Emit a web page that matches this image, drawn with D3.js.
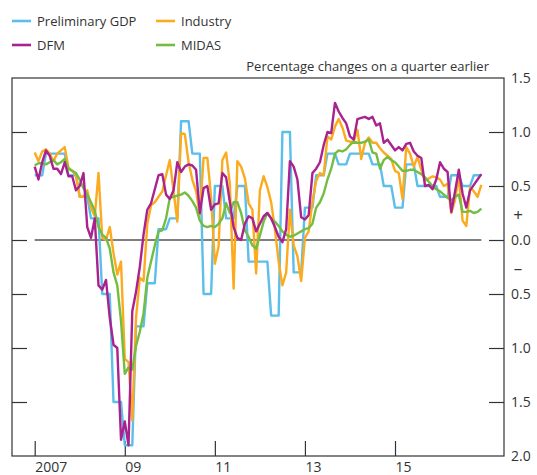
<!DOCTYPE html>
<html>
<head>
<meta charset="utf-8">
<script src="https://cdn.jsdelivr.net/npm/d3@7"></script>
<style>
  body { margin: 0; background: #fff; }
  text { font-family: "Open Sans", "Noto Sans", sans-serif; fill: #333; }
</style>
</head>
<body>
<div id="chart"></div>
<script>
// monthly estimates, Jan 2007 onwards
let startYear = 2007;

// preliminary GDP, one value per quarter (held for the 3 months of the quarter)
let prelimGDP = [0.6, 0.8, 0.8, 0.6, 0.4, 0.2, -0.5, -1.5, -1.9, -0.8, -0.4, 0.1,
  0.2, 1.1, 0.8, -0.5, 0.5, 0.2, 0.5, -0.2, -0.2, -0.7, 1.0, -0.3,
  0.3, 0.6, 0.8, 0.7, 0.8, 0.8, 0.7, 0.5, 0.3, 0.7, 0.5, 0.5,
  0.4, 0.6, 0.5, 0.6];

let industry = [0.81, 0.73, 0.82, 0.84, 0.80, 0.73, 0.80, 0.83, 0.86, 0.67,
  0.64, 0.60, 0.40, 0.40, 0.46, 0.30, 0.22, 0.62, 0.02, 0.00,
  0.12, -0.12, -0.32, -0.20, -1.10, -1.13, -1.67, -0.72, -0.35, -0.38,
  0.15, 0.32, 0.35, 0.40, 0.45, 0.60, 0.74, 0.45, 0.17, 0.99,
  0.98, 0.72, 0.56, 0.45, 0.23, 0.76, 0.76, 0.40, -0.22, -0.06,
  0.74, 0.81, 0.52, -0.45, 0.73, 0.68, 0.57, 0.34, 0.28, -0.31,
  0.46, 0.59, 0.49, 0.35, 0.10, -0.20, -0.42, -0.30, 0.28, -0.05,
  -0.15, -0.38, 0.02, 0.08, 0.35, 0.55, 0.62, 0.60, 0.96, 0.93,
  1.05, 1.12, 1.04, 0.92, 0.91, 0.91, 1.02, 0.75, 0.90, 0.95,
  0.90, 0.90, 0.85, 0.81, 0.78, 0.75, 0.64, 0.62, 0.38, 0.86,
  0.80, 0.68, 0.77, 0.65, 0.55, 0.57, 0.59, 0.58, 0.56, 0.50,
  0.52, 0.25, 0.37, 0.59, 0.18, 0.13, 0.49, 0.45, 0.40, 0.51];

let midas = [0.69, 0.71, 0.71, 0.70, 0.72, 0.74, 0.70, 0.72, 0.75, 0.66,
  0.64, 0.62, 0.56, 0.48, 0.42, 0.35, 0.27, 0.12, 0.05, 0.02,
  -0.08, -0.30, -0.42, -0.75, -1.24, -1.18, -1.20, -0.98, -0.85, -0.68,
  -0.35, -0.20, -0.05, 0.08, 0.09, 0.20, 0.39, 0.40, 0.41, 0.42,
  0.44, 0.41, 0.36, 0.30, 0.18, 0.13, 0.12, 0.13, 0.12, 0.15,
  0.20, 0.34, 0.25, 0.35, 0.35, 0.25, 0.09, 0.03, -0.05, -0.08,
  0.04, 0.17, 0.25, 0.20, 0.17, 0.13, 0.08, 0.05, 0.03, 0.04,
  0.06, 0.08, 0.10, 0.11, 0.15, 0.30, 0.35, 0.43, 0.56, 0.66,
  0.80, 0.83, 0.82, 0.84, 0.88, 0.91, 0.90, 0.90, 0.91, 0.93,
  0.81, 0.80, 0.66, 0.74, 0.77, 0.74, 0.72, 0.68, 0.64, 0.64,
  0.65, 0.65, 0.63, 0.61, 0.58, 0.54, 0.50, 0.47, 0.45, 0.42,
  0.39, 0.37, 0.40, 0.42, 0.26, 0.26, 0.27, 0.25, 0.26, 0.29];

let dfm = [0.68, 0.56, 0.72, 0.83, 0.78, 0.66, 0.66, 0.61, 0.72, 0.59,
  0.59, 0.46, 0.50, 0.62, 0.12, 0.02, 0.20, -0.42, -0.46, -0.37,
  -0.72, -0.97, -1.00, -1.85, -1.68, -1.90, -0.66, -0.48, -0.25, 0.05,
  0.28, 0.34, 0.47, 0.60, 0.61, 0.42, 0.38, 0.46, 0.72, 0.63,
  0.68, 0.70, 0.69, 0.65, 0.25, 0.48, 0.50, 0.28, 0.33, 0.34,
  0.62, 0.58, 0.35, 0.12, 0.02, 0.00, 0.15, 0.22, 0.20, 0.08,
  0.15, 0.22, 0.25, 0.20, 0.12, 0.03, -0.02, 0.10, 0.73, 0.68,
  0.56, 0.21, 0.19, 0.23, 0.62, 0.66, 0.72, 0.88, 1.00, 0.99,
  1.27, 1.19, 1.13, 1.08, 0.96, 0.93, 1.12, 1.13, 1.14, 1.12,
  1.14, 1.06, 1.08, 0.90, 0.93, 0.88, 0.83, 0.86, 0.83, 0.89,
  0.90, 0.82, 0.78, 0.76, 0.50, 0.51, 0.47, 0.56, 0.72, 0.66,
  0.63, 0.26, 0.45, 0.65, 0.43, 0.30, 0.46, 0.51, 0.56, 0.61];

let yTicks = [-2, -1.5, -1, -0.5, 0, 0.5, 1, 1.5];
let xTicks = [2007, 2009, 2011, 2013, 2015];
let xTickLabels = ["2007", "09", "11", "13", "15"];

let seriesNames = ["Preliminary GDP", "Industry", "DFM", "MIDAS"];
let colors = {"Preliminary GDP": "#5bbfea", "Industry": "#fbab1d", "DFM": "#a9228f", "MIDAS": "#74bd43"};

// quarterly GDP spread out over months
let prelimMonthly = [];
prelimGDP.forEach(function(v) { prelimMonthly.push(v, v, v); });

function toPoints(arr) {
  return arr.map(function(v, i) { return {t: startYear + i / 12, v: v}; });
}
let series = [
  {name: "Preliminary GDP", values: toPoints(prelimMonthly)},
  {name: "Industry", values: toPoints(industry)},
  {name: "MIDAS", values: toPoints(midas)},
  {name: "DFM", values: toPoints(dfm)}
];

let width = 537, height = 475;
let plot = {left: 12, right: 504, top: 78, bottom: 456};

let svg = d3.select("#chart")
  .append("svg")
    .attr("width", width)
    .attr("height", height);

let x = d3.scaleLinear()
  .domain([2006.496, 2017.42])
  .range([plot.left, plot.right]);

let y = d3.scaleLinear()
  .domain([-2, 1.5])
  .range([plot.bottom, plot.top]);

// frame
svg.append("rect")
  .attr("x", plot.left)
  .attr("y", plot.top)
  .attr("width", plot.right - plot.left)
  .attr("height", plot.bottom - plot.top)
  .attr("fill", "none")
  .attr("stroke", "#333")
  .attr("stroke-width", 1.2);

// zero line over the data span
svg.append("line")
  .attr("x1", x(startYear))
  .attr("x2", x(startYear + 119 / 12))
  .attr("y1", y(0))
  .attr("y2", y(0))
  .attr("stroke", "#555")
  .attr("stroke-width", 1.6);

// left ticks, no labels
svg.append("g")
  .attr("class", "axis")
  .attr("transform", "translate(" + plot.left + ",0)")
  .call(d3.axisRight(y).tickValues(yTicks.slice(1, -1)).tickSize(15).tickFormat(""));

// right ticks with labels (sizes without sign)
svg.append("g")
  .attr("class", "axis yRight")
  .attr("transform", "translate(" + (plot.right - 15) + ",0)")
  .call(d3.axisRight(y).tickValues(yTicks).tickSize(15).tickPadding(7)
    .tickFormat(function(d) { return d3.format(".1f")(Math.abs(d)); }));

// bottom ticks pointing up
svg.append("g")
  .attr("class", "axis xBottom")
  .attr("transform", "translate(0," + (plot.bottom - 15) + ")")
  .call(d3.axisBottom(x).tickValues(xTicks).tickSize(15).tickPadding(6)
    .tickFormat(function(d, i) { return xTickLabels[i]; }));

svg.selectAll(".axis .domain").remove();
svg.selectAll(".axis line").attr("stroke", "#333").attr("stroke-width", 1.2);
svg.selectAll(".axis text").attr("font-size", 14).attr("fill", "#333")
  .attr("font-family", '"Open Sans", sans-serif');
svg.selectAll(".yRight .tick").filter(function(d) { return d === 1.5 || d === -2; })
  .select("line").remove();
svg.selectAll(".xBottom text").attr("text-anchor", "start").attr("dx", 0);

// plus / minus markers
svg.append("text").attr("x", 518).attr("y", y(0.23)).attr("dy", "0.35em")
  .attr("text-anchor", "middle").attr("font-size", 17).text("+");
svg.append("text").attr("x", 518).attr("y", y(-0.26)).attr("dy", "0.35em")
  .attr("text-anchor", "middle").attr("font-size", 17).text("–");

// lines
let line = d3.line()
  .x(function(d) { return x(d.t); })
  .y(function(d) { return y(d.v); });

svg.append("g")
  .selectAll("path")
  .data(series)
  .enter()
  .append("path")
    .attr("d", function(d) { return line(d.values); })
    .attr("fill", "none")
    .attr("stroke", function(d) { return colors[d.name]; })
    .attr("stroke-width", 2.4)
    .attr("stroke-linejoin", "round");

// units label
svg.append("text")
  .attr("x", 489)
  .attr("y", 71)
  .attr("text-anchor", "end")
  .attr("font-size", 13)
  .text("Percentage changes on a quarter earlier");

// legend
let legendPos = [[12, 21], [156, 21], [12, 45], [156, 45]];
let legend = svg.append("g")
  .selectAll("g")
  .data(seriesNames)
  .enter()
  .append("g")
    .attr("transform", function(d, i) { return "translate(" + legendPos[i][0] + "," + legendPos[i][1] + ")"; });
legend.append("line")
  .attr("x1", 0).attr("x2", 19)
  .attr("stroke", function(d) { return colors[d]; })
  .attr("stroke-width", 2.6);
legend.append("text")
  .attr("x", 25)
  .attr("dy", "0.35em")
  .attr("font-size", 13)
  .text(function(d) { return d; });
</script>
</body>
</html>
